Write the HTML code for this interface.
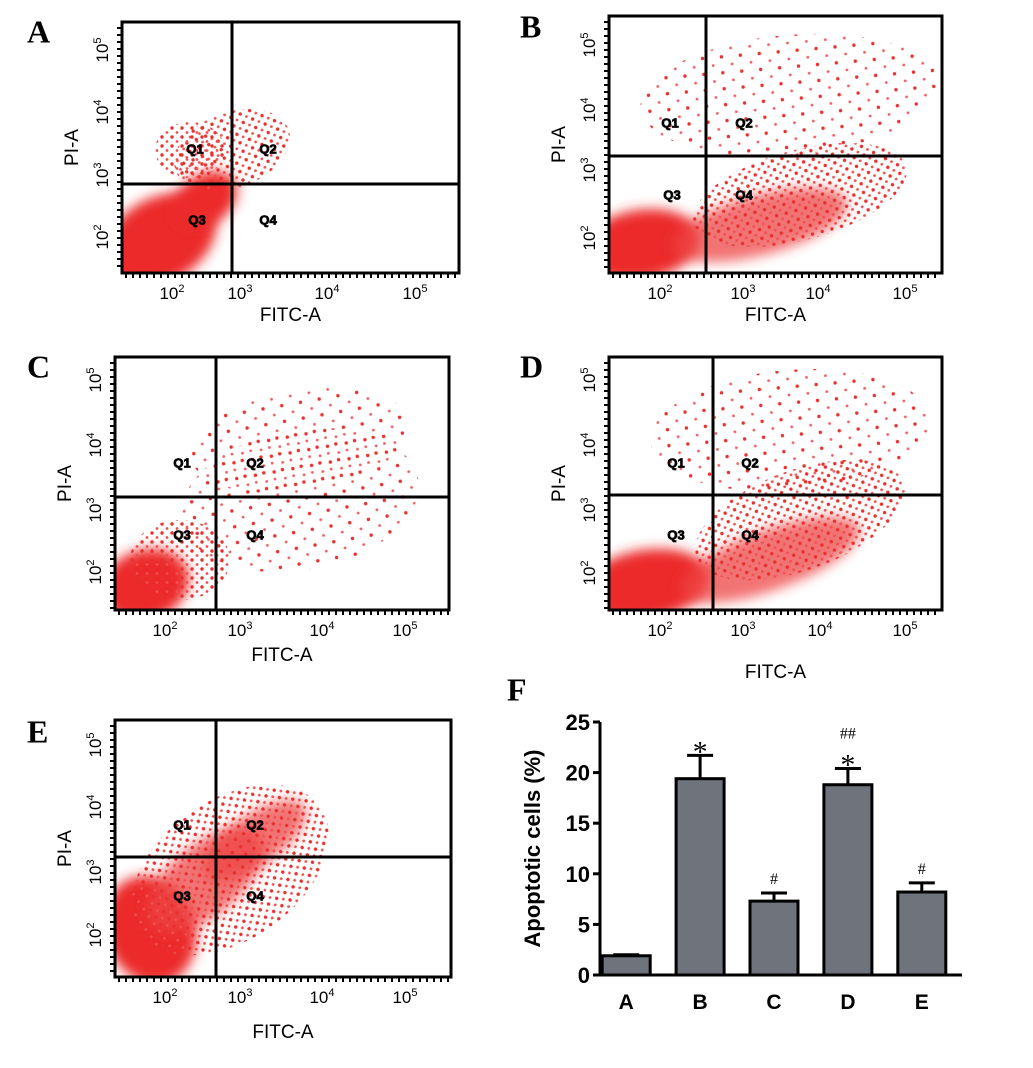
<!DOCTYPE html>
<html><head><meta charset="utf-8"><style>
body{margin:0;background:#fff;width:1033px;height:1068px;overflow:hidden}
svg{display:block}
text{font-family:"Liberation Sans",sans-serif}
</style></head><body>
<svg id="fig" width="1033" height="1068" viewBox="0 0 1033 1068">
<defs>
<filter id="blur" x="-30%" y="-30%" width="160%" height="160%"><feGaussianBlur stdDeviation="6"/></filter>
<pattern id="dots" width="10" height="9" patternUnits="userSpaceOnUse"><circle cx="2" cy="2" r="1.7" fill="#e8302f"/><circle cx="7" cy="6.5" r="1.4" fill="#ef5050"/></pattern>
<pattern id="dots2" width="19" height="16" patternUnits="userSpaceOnUse"><circle cx="3" cy="3" r="1.7" fill="#e8302f"/><circle cx="13" cy="11" r="1.4" fill="#f06060"/></pattern>
</defs>
</svg>
<script>
// ---- Bar chart data (panel F) ----
const groups=['A','B','C','D','E'];
const means=[1.9,19.4,7.3,18.8,8.2];
const errs=[0.1,2.3,0.8,1.6,0.9];
const marks=['','*','#','*','#'];
const marks2=['','','','##',''];
const yTicks=[0,5,10,15,20,25];

const NS='http://www.w3.org/2000/svg';
const svg=document.getElementById('fig');
function el(tag,attrs,parent,txt){const e=document.createElementNS(NS,tag);for(const k in attrs)e.setAttribute(k,attrs[k]);if(txt!==undefined)e.textContent=txt;(parent||svg).appendChild(e);return e;}
const SERIF='font-family:"Liberation Serif",serif';

// ---- Flow cytometry panels ----
const panels=[
 {id:'A',lx:35,ly:35,x0:122,y0:22,x1:459,y1:273,vx:232,hy:184,xt:[172,240,327,415],yt:[237,175,112,50],xl:[292,315],
  clouds:[[160,240,60,42,-30,'s'],[205,200,35,25,-35,'s'],[232,150,60,38,-20,'d'],[190,150,35,28,0,'d']],q:[[195,150,'Q1'],[268,150,'Q2'],[197,221,'Q3'],[268,221,'Q4']]},
 {id:'B',lx:528,ly:30,x0:609,y0:16,x1:942,y1:273,vx:706,hy:156,xt:[660,743,818,905],yt:[238,170,110,45],xl:[292,315],
  clouds:[[640,245,60,35,-10,'s'],[760,225,90,30,-15,'s2'],[800,195,110,45,-15,'d'],[790,95,150,60,-5,'d2']],q:[[670,124,'Q1'],[744,124,'Q2'],[672,196,'Q3'],[744,196,'Q4']]},
 {id:'C',lx:35,ly:370,x0:115,y0:357,x1:449,y1:610,vx:216,hy:497,xt:[165,240,322,405],yt:[572,510,445,380],xl:[632,655],
  clouds:[[145,585,45,35,-20,'s'],[180,560,50,40,0,'d'],[300,500,120,70,-10,'d2'],[300,440,110,50,-10,'d2']],q:[[182,464,'Q1'],[255,464,'Q2'],[182,536,'Q3'],[255,536,'Q4']]},
 {id:'D',lx:528,ly:370,x0:609,y0:357,x1:942,y1:610,vx:713,hy:495,xt:[660,743,820,905],yt:[573,510,445,380],xl:[632,672],
  clouds:[[645,585,65,35,-10,'s'],[770,560,95,30,-20,'s2'],[800,520,110,50,-20,'d'],[790,430,140,60,-5,'d2']],q:[[676,464,'Q1'],[750,464,'Q2'],[676,536,'Q3'],[750,536,'Q4']]},
 {id:'E',lx:35,ly:735,x0:115,y0:720,x1:451,y1:977,vx:216,hy:857,xt:[165,240,322,405],yt:[935,872,807,745],xl:[990,1032],
  clouds:[[150,930,45,55,-20,'s'],[205,880,70,35,-40,'s2'],[255,840,60,25,-35,'s2'],[230,870,110,70,-35,'d']],q:[[182,826,'Q1'],[255,826,'Q2'],[182,897,'Q3'],[255,897,'Q4']]}
];
const sup=['2','3','4','5'];
panels.forEach(p=>{
 const g=el('g',{});
 
 
 el('text',{x:p.lx-8,y:p.ly,style:SERIF,'font-weight':'bold','font-size':32,'dominant-baseline':'middle'},g,p.id);
 const cg=el('g',{},g);
 const clip='c'+p.id;
 const cp=el('clipPath',{id:clip},g);el('rect',{x:p.x0,y:p.y0,width:p.x1-p.x0,height:p.y1-p.y0},cp);
 cg.setAttribute('clip-path','url(#'+clip+')');
 p.clouds.forEach(c=>{
  const [cx,cy,rx,ry,r,t]=c;
  const fill=t==='s'?'#ec2a2a':t==='s2'?'#ee4444':t==='d'?'url(#dots)':'url(#dots2)';
  const a={cx,cy,rx,ry,fill,transform:`rotate(${r} ${cx} ${cy})`};
  if(t==='s'||t==='s2')a.filter='url(#blur)';
  if(t==='s2')a.opacity=0.75;
  el('ellipse',a,cg);
 });
 el('rect',{x:p.x0,y:p.y0,width:p.x1-p.x0,height:p.y1-p.y0,fill:'none',stroke:'#000','stroke-width':3},g);
 el('line',{x1:p.vx,y1:p.y0,x2:p.vx,y2:p.y1,stroke:'#000','stroke-width':3},g);
 el('line',{x1:p.x0,y1:p.hy,x2:p.x1,y2:p.hy,stroke:'#000','stroke-width':3},g);
 p.q.forEach(q=>el('text',{x:q[0],y:q[1],'font-size':13,'font-weight':'bold','text-anchor':'middle','dominant-baseline':'middle',stroke:'#000','stroke-width':0.8},g,q[2]));
 for(let x=p.x0+4;x<p.x1;x+=7)el('line',{x1:x,y1:p.y1,x2:x,y2:p.y1+5,stroke:'#000','stroke-width':2},g);
 for(let y=p.y0+6;y<p.y1;y+=7)el('line',{x1:p.x0-5,y1:y,x2:p.x0,y2:y,stroke:'#000','stroke-width':2},g);
 p.xt.forEach((x,i)=>{const t=el('text',{x:x,y:p.y1+26,'font-size':17,'text-anchor':'middle'},g,'10');el('tspan',{'font-size':11,dy:-7},t,sup[i]);});
 p.yt.forEach((y,i)=>{const t=el('text',{x:0,y:0,'font-size':17,'text-anchor':'middle',transform:`translate(${p.x0-14} ${y}) rotate(-90)`},g,'10');el('tspan',{'font-size':11,dy:-7},t,sup[i]);});
 el('text',{x:0,y:0,'font-size':19,'text-anchor':'middle',transform:`translate(${p.x0-44} ${(p.y0+p.y1)/2}) rotate(-90)`},g,'PI-A');
 el('text',{x:(p.x0+p.x1)/2,y:p.xl[1]+6,'font-size':19,'text-anchor':'middle'},g,'FITC-A');
});

// ---- Bar chart ----
const ax={x0:600,x1:962,yTop:722,yBot:975};
const yMax=25;
function ys(v){return ax.yBot-(v/yMax)*(ax.yBot-ax.yTop);}
const band=(ax.x1-ax.x0)/groups.length;
function xs(i){return ax.x0+band*(i+0.5)-10+ i*1.5;}
const bw=48;
const fg=el('g',{});


el('text',{x:507,y:693,style:SERIF,'font-weight':'bold','font-size':32,'dominant-baseline':'middle'},fg,'F');
groups.forEach((gname,i)=>{
 const cx=xs(i),top=ys(means[i]);
 const r=el('rect',{x:cx-bw/2,y:top,width:bw,height:ys(0)-top,fill:'#6f737c',stroke:'#000','stroke-width':3},fg);
 
 
 const et=ys(means[i]+errs[i]);
 el('line',{x1:cx,y1:top,x2:cx,y2:et,stroke:'#000','stroke-width':3},fg);
 el('line',{x1:cx-13,y1:et,x2:cx+13,y2:et,stroke:'#000','stroke-width':3},fg);
 if(marks[i]==='*')el('text',{x:cx,y:et+6,'font-size':30,'text-anchor':'middle',style:SERIF},fg,'*');
 else if(marks[i])el('text',{x:cx,y:et-9,'font-size':16,'text-anchor':'middle',style:SERIF},fg,marks[i]);
 if(marks2[i])el('text',{x:cx,y:et-30,'font-size':16,'text-anchor':'middle',style:SERIF},fg,marks2[i]);
 el('text',{x:cx,y:ax.yBot+34,'font-size':21,'font-weight':'bold','text-anchor':'middle'},fg,gname);
});
el('line',{x1:ax.x0,y1:ax.yTop,x2:ax.x0,y2:ax.yBot,stroke:'#000','stroke-width':3},fg);
el('line',{x1:ax.x0,y1:ax.yBot,x2:ax.x1,y2:ax.yBot,stroke:'#000','stroke-width':3},fg);
yTicks.forEach(v=>{
 el('line',{x1:ax.x0-7,y1:ys(v),x2:ax.x0,y2:ys(v),stroke:'#000','stroke-width':3},fg);
 el('text',{x:ax.x0-10,y:ys(v)+8,'font-size':22,'font-weight':'bold','text-anchor':'end'},fg,String(v));
});
el('text',{x:0,y:0,'font-size':22,'font-weight':'bold','text-anchor':'middle',transform:`translate(540 ${(ax.yTop+ax.yBot)/2}) rotate(-90)`},fg,'Apoptotic cells (%)');
</script>
</body></html>
